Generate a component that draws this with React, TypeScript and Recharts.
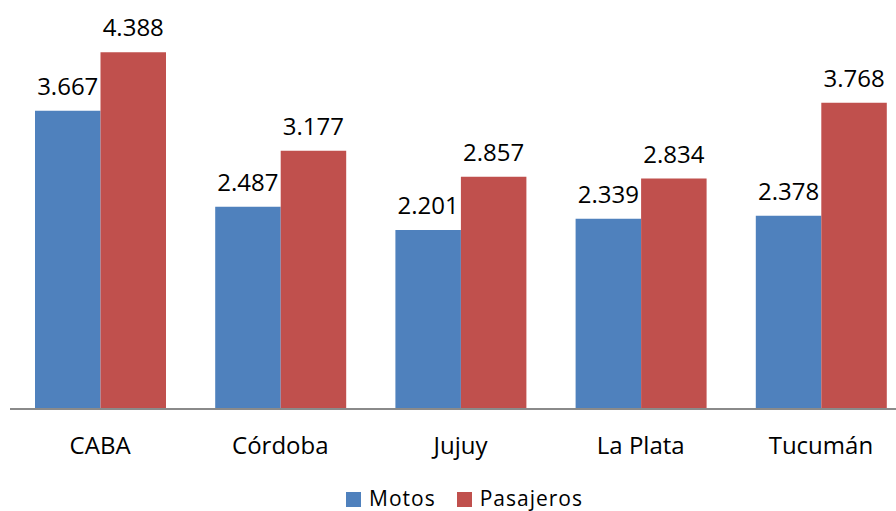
import { Bar, BarChart, LabelList, Legend, XAxis, YAxis } from "recharts";

const BLUE = "#4F81BD";
const RED = "#C0504D";
const FONT = "'Open Sans', 'Liberation Sans', sans-serif";

const cities = ["CABA", "Córdoba", "Jujuy", "La Plata", "Tucumán"];
const motos = [3.667, 2.487, 2.201, 2.339, 2.378];
const pasajeros = [4.388, 3.177, 2.857, 2.834, 3.768];

const rows = cities.map((city, i) => ({ city, motos: motos[i], pasajeros: pasajeros[i] }));

const fmt = (v: any) => Number(v).toFixed(3);

function LegendBox() {
  const items = [
    { label: "Motos", color: BLUE },
    { label: "Pasajeros", color: RED },
  ];
  return (
    <div style={{ position: "relative", height: 31, paddingLeft: 346, fontFamily: FONT, display: "flex" }}>
      {items.map((it) => (
        <div key={it.label} style={{ position: "relative", display: "flex", marginRight: 21 }}>
          <div style={{ width: 15, height: 15, background: it.color, marginTop: 12, marginRight: 8 }} />
          <div style={{ fontSize: 21, lineHeight: "21px", marginTop: 8, letterSpacing: 1, color: "#000" }}>
            {it.label}
          </div>
        </div>
      ))}
    </div>
  );
}

export default function App() {
  return (
    <div style={{ position: "absolute", left: 0, top: 0, width: 896, height: 511, overflow: "hidden", background: "#fff" }}>
      <BarChart
        width={920}
        height={511}
        data={rows}
        margin={{ top: 2.5, right: 9, left: 10, bottom: 11 }}
        barGap={0}
        barSize={65.5}
      >
        <XAxis
          dataKey="city"
          height={60}
          tickLine={false}
          tickSize={0}
          tickMargin={28}
          axisLine={{ stroke: "#8a8a8a", strokeWidth: 2 }}
          tick={{ fontSize: 24, fill: "#000", fontFamily: FONT }}
          interval={0}
        />
        <YAxis hide domain={[0, 5]} />
        <Legend
          content={() => <LegendBox />}
          wrapperStyle={{ position: "absolute", top: 480, left: 0, width: 920, height: 31 }}
        />
        <Bar dataKey="motos" name="Motos" fill={BLUE} isAnimationActive={false}>
          <LabelList
            dataKey="motos"
            position="top"
            offset={16}
            formatter={fmt}
            style={{ fontSize: 24, fill: "#000", fontFamily: FONT }}
          />
        </Bar>
        <Bar dataKey="pasajeros" name="Pasajeros" fill={RED} isAnimationActive={false}>
          <LabelList
            dataKey="pasajeros"
            position="top"
            offset={16}
            formatter={fmt}
            style={{ fontSize: 24, fill: "#000", fontFamily: FONT }}
          />
        </Bar>
      </BarChart>
    </div>
  );
}
